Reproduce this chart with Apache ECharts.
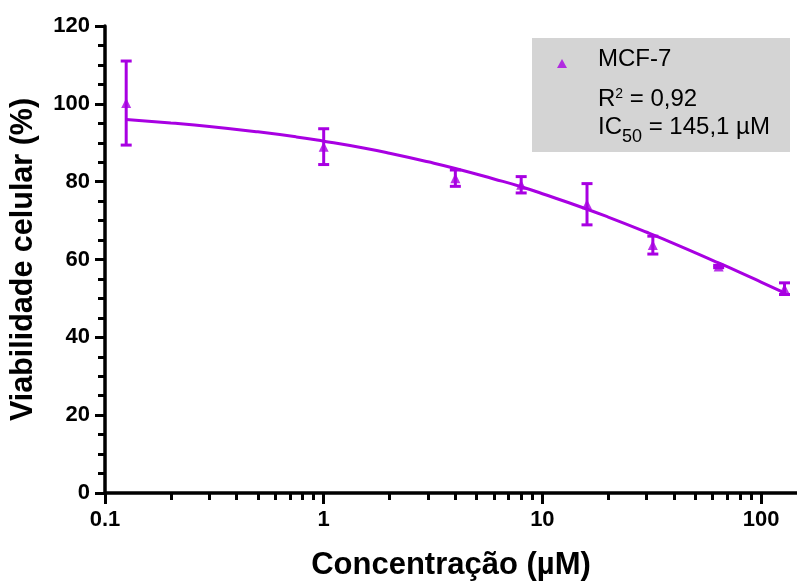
<!DOCTYPE html>
<html>
<head>
<meta charset="utf-8">
<script src="https://cdn.jsdelivr.net/npm/echarts@6/dist/echarts.min.js"></script>
<style>
html,body{margin:0;padding:0;background:#fff;}
#chart{width:797px;height:581px;}
</style>
</head>
<body>
<div id="chart"></div>
<script>
// Concentrations (µM) and measured viability (%)
const conc = [0.125, 1, 4, 8, 16, 32, 64, 128];
const viability = [100.2, 89.0, 80.9, 79.2, 74.2, 63.7, 58.2, 52.5];
const errorSD = [10.8, 4.6, 2.1, 2.1, 5.3, 2.3, 0.3, 1.5];

// Fitted dose-response curve
const curveX = [0.125, 0.2, 0.3, 0.5, 0.75, 1, 1.5, 2, 3, 4, 6, 8, 10, 15, 20, 30, 40, 60, 80, 100, 128];
const curveY = [96.0, 95.1, 94.2, 92.8, 91.5, 90.4, 88.7, 87.3, 85.1, 83.4, 80.7, 78.7, 76.9, 73.5, 70.9, 67.0, 64.1, 59.8, 56.7, 54.2, 51.4];

// Axis ticks
const xMajorTicks = [0.1, 1, 10, 100];
const xMinorTicks = [0.2, 0.3, 0.4, 0.5, 0.6, 0.7, 0.8, 0.9, 2, 3, 4, 5, 6, 7, 8, 9, 20, 30, 40, 50, 60, 70, 80, 90];
const xLabels = ['0.1', '1', '10', '100'];

const seriesName = 'MCF-7';
const r2Text = '0,92';
const ic50Text = '145,1 µM';

const purple = '#a800e2';
const font = "'Liberation Sans', Arial, Helvetica, sans-serif";

const chart = echarts.init(document.getElementById('chart'), null, {renderer: 'canvas'});

const points = conc.map((c, i) => [c, viability[i]]);
const errData = conc.map((c, i) => [c, viability[i] - errorSD[i], viability[i] + errorSD[i]]);
const curve = curveX.map((c, i) => [c, curveY[i]]);

const txt = {fontFamily: font, fontSize: 24, fontWeight: 'normal', color: '#000', lineHeight: 24};

const option = {
  animation: false,
  backgroundColor: '#ffffff',
  grid: {left: 105, right: 0, top: 26, bottom: 88, containLabel: false, outerBoundsMode: 'none'},
  graphic: [{
    type: 'rect', z: 0,
    shape: {x: 532, y: 38, width: 258, height: 114},
    style: {fill: '#d4d4d4'}
  }],
  legend: {
    data: [seriesName],
    left: 557, top: 59, padding: 0, z: 10,
    itemWidth: 10, itemHeight: 9,
    formatter: () => '',
    textStyle: {fontSize: 8},
    selectedMode: false
  },
  title: [
    {text: seriesName, left: 598, top: 47, padding: 0, z: 10, textStyle: txt},
    {text: '{a|R}{s|2}{a| = ' + r2Text + '}', left: 598, top: 87, padding: 0, z: 10,
     textStyle: Object.assign({}, txt, {
       rich: {
         a: Object.assign({}, txt, {verticalAlign: 'bottom'}),
         s: {fontFamily: font, fontSize: 14, fontWeight: 'normal', color: '#000', lineHeight: 12, verticalAlign: 'top'}
       }})},
    {text: '{a|IC}{b|50}{a| = ' + ic50Text + '}', left: 598, top: 115, padding: 0, z: 10,
     textStyle: Object.assign({}, txt, {
       rich: {
         a: Object.assign({}, txt, {verticalAlign: 'top'}),
         b: {fontFamily: font, fontSize: 18, fontWeight: 'normal', color: '#000', lineHeight: 44, verticalAlign: 'middle'}
       }})}
  ],
  xAxis: [{
    type: 'log', logBase: 10, min: 0.1, max: 146,
    position: 'bottom',
    name: 'Concentração (µM)', nameLocation: 'middle', nameGap: 57,
    nameTextStyle: {fontFamily: font, fontSize: 31, fontWeight: 'bold', color: '#000'},
    axisLine: {show: true, onZero: false, lineStyle: {color: '#000', width: 3.5}},
    axisTick: {show: true, inside: false, length: 11, customValues: xMajorTicks, lineStyle: {color: '#000', width: 3}},
    axisLabel: {show: true, margin: 16, customValues: xMajorTicks,
      formatter: (v) => xLabels[xMajorTicks.findIndex(t => Math.abs(t - v) < 1e-9)] ?? String(v),
      fontFamily: font, fontSize: 22, fontWeight: 'bold', color: '#000'},
    splitLine: {show: false}, minorTick: {show: false}
  }, {
    type: 'log', logBase: 10, min: 0.1, max: 146,
    position: 'bottom', gridIndex: 0,
    axisLine: {show: false},
    axisTick: {show: true, inside: false, length: 7, customValues: xMinorTicks, lineStyle: {color: '#000', width: 3}},
    axisLabel: {show: false},
    splitLine: {show: false}
  }],
  yAxis: {
    type: 'value', min: 0, max: 120, interval: 20,
    name: 'Viabilidade celular (%)', nameLocation: 'middle', nameGap: 66,
    nameTextStyle: {fontFamily: font, fontSize: 30.5, fontWeight: 'bold', color: '#000'},
    axisLine: {show: true, onZero: false, lineStyle: {color: '#000', width: 3.5}},
    axisTick: {show: true, inside: false, length: 10, lineStyle: {color: '#000', width: 3}},
    minorTick: {show: true, splitNumber: 4, length: 7, lineStyle: {color: '#000', width: 3}},
    axisLabel: {margin: 15, fontFamily: font, fontSize: 22, fontWeight: 'bold', color: '#000'},
    splitLine: {show: false}, minorSplitLine: {show: false}
  },
  series: [
    {
      name: 'fit', type: 'line', xAxisIndex: 0, data: curve, smooth: true,
      symbol: 'none', lineStyle: {color: purple, width: 3}, z: 3
    },
    {
      name: 'sd', type: 'custom', xAxisIndex: 0, data: errData, z: 4,
      renderItem: (params, api) => {
        const x = api.value(0);
        const lo = api.coord([x, api.value(1)]);
        const hi = api.coord([x, api.value(2)]);
        const hw = 5.5;
        const st = {stroke: purple, lineWidth: 3};
        return {type: 'group', children: [
          {type: 'line', shape: {x1: lo[0], y1: lo[1], x2: hi[0], y2: hi[1]}, style: st},
          {type: 'line', shape: {x1: lo[0] - hw, y1: lo[1], x2: lo[0] + hw, y2: lo[1]}, style: st},
          {type: 'line', shape: {x1: hi[0] - hw, y1: hi[1], x2: hi[0] + hw, y2: hi[1]}, style: st}
        ]};
      }
    },
    {
      name: seriesName, type: 'scatter', xAxisIndex: 0, data: points,
      symbol: 'triangle', symbolSize: [10, 10],
      itemStyle: {color: purple}, z: 5
    }
  ]
};
chart.setOption(option);
</script>
</body>
</html>
